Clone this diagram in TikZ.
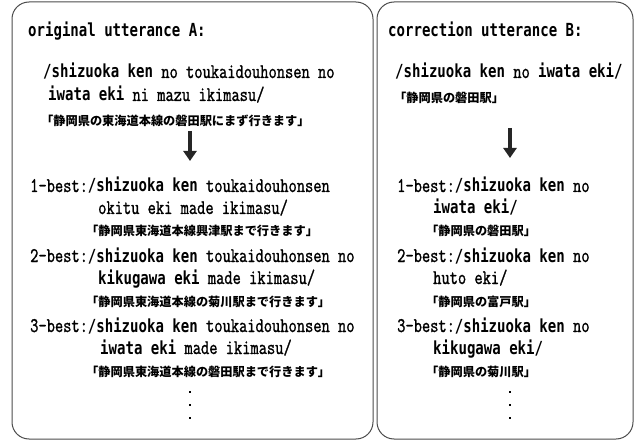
\documentclass[tikz,border=0pt]{standalone}
\usepackage{fontspec}
\usetikzlibrary{arrows.meta}
\newfontfamily\gthf[FakeStretch=0.78]{DejaVu Sans Mono}
\newfontfamily\mchf[FakeStretch=0.77,FakeBold=1.2]{Latin Modern Mono}
\newfontfamily\jpf{Noto Sans CJK JP}
\newcommand{\gtx}[1]{{\gthf\bfseries\fontsize{18}{18}\selectfont #1}}
\begin{document}
\begin{tikzpicture}[x=1pt,y=-1pt,
  boxline/.style={draw=black!70, line width=1pt, rounded corners=17pt},
  ltxt/.style={anchor=base west, inner sep=0pt, font=\mchf\fontsize{20.8}{20.8}\selectfont},
  jtxt/.style={anchor=base west, inner sep=0pt, font=\jpf\bfseries\fontsize{12.2}{12.2}\selectfont},
  downarrow/.style={draw=black!85, line width=3.2pt, -{Triangle[width=13pt,length=10pt]}},
  dotmark/.style={fill=black, minimum size=2.6pt, inner sep=0pt, rectangle}]
\useasboundingbox (0,0) rectangle (643,441);
% boxes
\draw[boxline] (12,2) rectangle (373,439);
\draw[boxline] (377,2) rectangle (633,439);
% left column
\node[ltxt] (ah) at (28,37) {\gtx{original utterance A:}};
\node[ltxt] (a1) at (43,78) {\gtx{/shizuoka ken} no toukaidouhonsen no};
\node[ltxt] (a2) at (48,101) {\gtx{iwata eki} ni mazu ikimasu/};
\node[jtxt] (a3) at (41,126) {「静岡県の東海道本線の磐田駅にまず行きます」};
\coordinate (aas) at (190,131);
\coordinate (aae) at (190,161);
\draw[downarrow] (aas) -- (aae);
\node[ltxt] (b1) at (30,192) {1-best:\gtx{/shizuoka ken} toukaidouhonsen};
\node[ltxt] (b2) at (98,214) {okitu eki made ikimasu/};
\node[jtxt] (b3) at (86,236) {「静岡県東海道本線興津駅まで行きます」};
\node[ltxt] (c1) at (30,262) {2-best:\gtx{/shizuoka ken} toukaidouhonsen no};
\node[ltxt] (c2) at (98,284) {\gtx{kikugawa eki} made ikimasu/};
\node[jtxt] (c3) at (86,306) {「静岡県東海道本線の菊川駅まで行きます」};
\node[ltxt] (d1) at (30,332) {3-best:\gtx{/shizuoka ken} toukaidouhonsen no};
\node[ltxt] (d2) at (100,354) {\gtx{iwata eki} made ikimasu/};
\node[jtxt] (d3) at (86,376) {「静岡県東海道本線の磐田駅まで行きます」};
\node[dotmark] (ad1) at (190,392) {};
\node[dotmark] (ad2) at (190,405) {};
\node[dotmark] (ad3) at (190,418) {};
% right column
\node[ltxt] (bh) at (388,37) {\gtx{correction utterance B:}};
\node[ltxt] (r1) at (395,78) {\gtx{/shizuoka ken} no \gtx{iwata eki/}};
\node[jtxt] (r2) at (394,103) {「静岡県の磐田駅」};
\coordinate (bas) at (510,128);
\coordinate (bae) at (510,158);
\draw[downarrow] (bas) -- (bae);
\node[ltxt] (s1) at (397,192) {1-best:\gtx{/shizuoka ken} no};
\node[ltxt] (s2) at (433,214) {\gtx{iwata eki/}};
\node[jtxt] (s3) at (426,236) {「静岡県の磐田駅」};
\node[ltxt] (t1) at (397,262) {2-best:\gtx{/shizuoka ken} no};
\node[ltxt] (t2) at (433,284) {huto eki/};
\node[jtxt] (t3) at (426,306) {「静岡県の富戸駅」};
\node[ltxt] (u1) at (397,332) {3-best:\gtx{/shizuoka ken} no};
\node[ltxt] (u2) at (433,354) {\gtx{kikugawa eki/}};
\node[jtxt] (u3) at (426,376) {「静岡県の菊川駅」};
\node[dotmark] (bd1) at (510,392) {};
\node[dotmark] (bd2) at (510,405) {};
\node[dotmark] (bd3) at (510,418) {};
\end{tikzpicture}
\end{document}
